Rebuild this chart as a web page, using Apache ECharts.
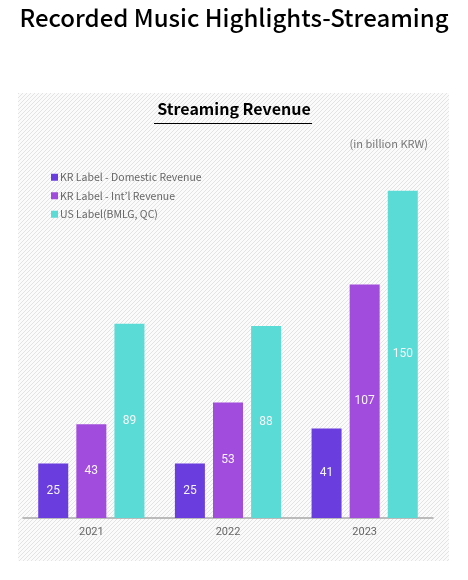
<!DOCTYPE html>
<html><head><meta charset="utf-8">
<script src="https://cdn.jsdelivr.net/npm/echarts@6/dist/echarts.min.js"></script>
<style>html,body{margin:0;padding:0;background:#fff}#c{width:468px;height:580px}</style>
</head><body><div id="c"></div>
<script>
var categories = ['2021', '2022', '2023'];
var seriesNames = ['KR Label - Domestic Revenue', 'KR Label - Int\u2019l Revenue', 'US Label(BMLG, QC)'];
var domestic = [25, 25, 41];
var intl = [43, 53, 107];
var us = [89, 88, 150];
var colors = ['#6a3ddf', '#a24cdd', '#5adbd6'];

var pc = document.createElement('canvas');
pc.width = 4; pc.height = 4;
var ctx = pc.getContext('2d');
ctx.fillStyle = '#fbfbfb'; ctx.fillRect(0, 0, 4, 4);
ctx.strokeStyle = '#e3e3e3'; ctx.lineWidth = 1;
ctx.beginPath(); ctx.moveTo(0, 4); ctx.lineTo(4, 0); ctx.stroke();
ctx.beginPath(); ctx.moveTo(-1, 1); ctx.lineTo(1, -1); ctx.stroke();
ctx.beginPath(); ctx.moveTo(3, 5); ctx.lineTo(5, 3); ctx.stroke();

var FONT = '"Noto Sans CJK KR", "Noto Sans", sans-serif';
var chart = echarts.init(document.getElementById('c'), null, {renderer: 'canvas'});
function mk(name, data, i) {
  return {
    name: name, type: 'bar', data: data, barWidth: 30, barGap: '27%',
    itemStyle: {color: colors[i]},
    label: {show: true, position: 'inside', color: '#f4f4f4', fontSize: 12, fontFamily: 'Roboto, sans-serif'}
  };
}
chart.setOption({
  animation: false,
  color: colors,
  graphic: [
    {type: 'rect', z: -10, shape: {x: 18, y: 93, width: 431, height: 468}, style: {fill: {image: pc, repeat: 'repeat'}}},
    {type: 'text', left: 'center', top: 6, style: {text: 'Recorded Music Highlights-Streaming', fontSize: 24, fontWeight: 500, fill: '#000', fontFamily: FONT}},
    {type: 'text', left: 'center', top: 101, style: {text: 'Streaming Revenue', fontSize: 16, fontWeight: 'bold', fill: '#000', fontFamily: FONT}},
    {type: 'line', shape: {x1: 154, y1: 123.5, x2: 312, y2: 123.5}, style: {stroke: '#000', lineWidth: 1.2}},
    {type: 'text', right: 40, top: 138, style: {text: '(in billion KRW)', fontSize: 11, fill: '#777', fontFamily: FONT}}
  ],
  legend: {
    orient: 'vertical', left: 46, top: 167, itemWidth: 7, itemHeight: 7, itemGap: 8, icon: 'rect',
    textStyle: {color: '#666', fontSize: 10.5, fontFamily: FONT, padding: [0, 0, 0, -3]},
    data: seriesNames
  },
  grid: {left: 23, right: 35, top: 169, bottom: 62, containLabel: false},
  xAxis: {
    type: 'category', data: categories,
    axisLine: {lineStyle: {color: '#a8a8a8', width: 1.5}},
    axisTick: {show: false},
    axisLabel: {color: '#666', fontSize: 11, margin: 9, fontFamily: 'Roboto, sans-serif'}
  },
  yAxis: {type: 'value', min: 0, max: 160, show: false, splitLine: {show: false}},
  series: [mk(seriesNames[0], domestic, 0), mk(seriesNames[1], intl, 1), mk(seriesNames[2], us, 2)]
});
</script></body></html>
